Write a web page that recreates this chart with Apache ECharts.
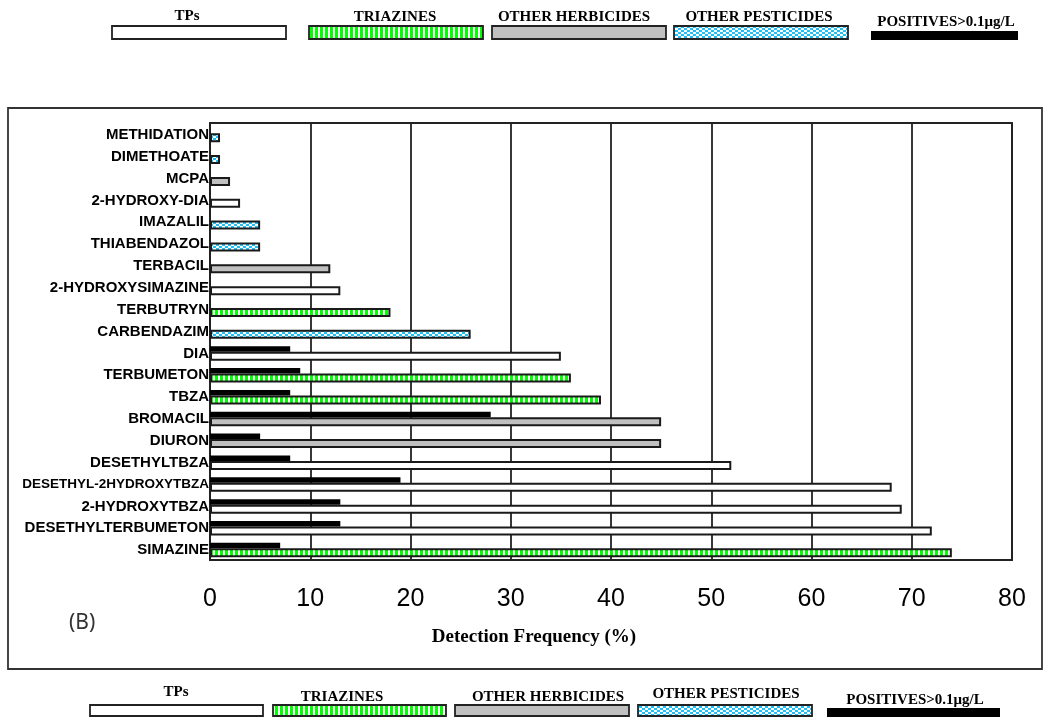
<!DOCTYPE html>
<html>
<head>
<meta charset="utf-8">
<script src="https://cdn.jsdelivr.net/npm/echarts@6/dist/echarts.min.js"></script>
<style>
  html, body { margin: 0; padding: 0; background: #fff; }
  #chart { width: 1043px; height: 719px; }
</style>
</head>
<body>
<div id="chart"></div>
<script>
// Compounds, listed top to bottom
const categories = [
  'METHIDATION', 'DIMETHOATE', 'MCPA', '2-HYDROXY-DIA', 'IMAZALIL',
  'THIABENDAZOL', 'TERBACIL', '2-HYDROXYSIMAZINE', 'TERBUTRYN', 'CARBENDAZIM',
  'DIA', 'TERBUMETON', 'TBZA', 'BROMACIL', 'DIURON',
  'DESETHYLTBZA', 'DESETHYL-2HYDROXYTBZA', '2-HYDROXYTBZA', 'DESETHYLTERBUMETON', 'SIMAZINE'
];
// Detection frequency (%)
const frequency = [1, 1, 2, 3, 5, 5, 12, 13, 18, 26, 35, 36, 39, 45, 45, 52, 68, 69, 72, 74];
// Compound class of each entry
const groups = [
  'pest', 'pest', 'herb', 'tp', 'pest',
  'pest', 'herb', 'tp', 'tri', 'pest',
  'tp', 'tri', 'tri', 'herb', 'herb',
  'tp', 'tp', 'tp', 'tp', 'tri'
];
// Share of samples above 0.1 µg/L (%), 0 = none
const positives = [0, 0, 0, 0, 0, 0, 0, 0, 0, 0, 8, 9, 8, 28, 5, 8, 19, 13, 13, 7];
const xTicks = [0, 10, 20, 30, 40, 50, 60, 70, 80];
const legendKeys = ['tp', 'tri', 'herb', 'pest', 'pos'];
const legendNames = ['TPs', 'TRIAZINES', 'OTHER HERBICIDES', 'OTHER PESTICIDES', 'POSITIVES>0.1\u03bcg/L'];
const axisTitle = 'Detection Frequency (%)';
const panelTag = '(B)';

// ---- fill patterns ----
function makeCanvas(w, h, draw) {
  const c = document.createElement('canvas');
  c.width = w; c.height = h;
  draw(c.getContext('2d'));
  return c;
}
const stripeFill = {
  image: makeCanvas(5, 8, g => {
    g.fillStyle = '#ffffff'; g.fillRect(0, 0, 5, 8);
    g.fillStyle = '#00ff00'; g.fillRect(0, 0, 3, 8);
  }),
  repeat: 'repeat'
};
const dotFill = {
  image: makeCanvas(6, 4, g => {
    g.fillStyle = '#ffffff'; g.fillRect(0, 0, 6, 4);
    g.fillStyle = '#1cc2f7';
    g.fillRect(0, 0, 3, 2);
    g.fillRect(3, 2, 3, 2);
  }),
  repeat: 'repeat'
};
const fills = { tp: '#ffffff', tri: stripeFill, herb: '#c0c0c0', pest: dotFill, pos: '#000000' };

// ---- legend rows (text above a long swatch) ----
const SERIF = '"Liberation Serif", "Times New Roman", serif';
const SANS = '"Liberation Sans", Arial, sans-serif';
function legendRow(swatchX, swatchW, swatchY, swatchH, textX, textY) {
  const out = [];
  legendKeys.forEach((k, i) => {
    const isPos = k === 'pos';
    out.push({
      type: 'rect',
      shape: { x: swatchX[i], y: swatchY[i], width: swatchW[i], height: swatchH[i] },
      style: { fill: fills[k], stroke: isPos ? '#000' : '#222', lineWidth: isPos ? 0 : 1.8 },
      silent: true
    });
    out.push({
      type: 'text',
      style: {
        text: legendNames[i], x: textX[i], y: textY[i],
        textAlign: 'center', textVerticalAlign: 'middle',
        font: 'bold 15px ' + SERIF, fill: '#000'
      },
      silent: true
    });
  });
  return out;
}
const topLegend = legendRow(
  [112, 309, 492, 674, 871], [174, 174, 174, 174, 147],
  [26, 26, 26, 26, 31], [13, 13, 13, 13, 9],
  [187, 395, 574, 759, 946], [16, 17.5, 17.5, 17.5, 22]
);
const bottomLegend = legendRow(
  [90, 273, 455, 638, 827], [173, 173, 174, 174, 173],
  [705, 705, 705, 705, 708], [11, 11, 11, 11, 9],
  [176, 342, 548, 726, 915], [692, 697, 697, 694, 700]
);

const chart = echarts.init(document.getElementById('chart'), null, { renderer: 'canvas' });
chart.setOption({
  animation: false,
  backgroundColor: '#ffffff',
  grid: {
    left: 210, top: 123, width: 802, height: 437,
    show: true, borderColor: '#222', borderWidth: 1.8, backgroundColor: 'transparent'
  },
  xAxis: {
    type: 'value', min: xTicks[0], max: xTicks[xTicks.length - 1], interval: 10,
    axisLine: { show: true, lineStyle: { color: '#222', width: 1.8 } },
    axisTick: { show: false },
    splitLine: { show: true, lineStyle: { color: '#222', width: 1.8 } },
    axisLabel: { fontSize: 25, color: '#000', fontFamily: SANS, margin: 27 }
  },
  yAxis: {
    type: 'category', inverse: true, data: categories,
    axisLine: { show: true, lineStyle: { color: '#222', width: 1.8 } },
    axisTick: { show: false },
    splitLine: { show: false },
    axisLabel: {
      margin: 1, color: '#000', fontSize: 15, fontWeight: 'bold', fontFamily: SANS,
      padding: [2, 0, 0, 0],
      formatter: v => v.length > 20 ? '{s|' + v + '}' : v,
      rich: { s: { fontSize: 13.5, fontWeight: 'bold', fontFamily: SANS, color: '#000' } }
    }
  },
  series: [
    // empty slot that nudges the bar pair just below each band centre
    { type: 'bar', name: 'offset', barWidth: 2, barGap: '0%', data: categories.map(() => '-'), silent: true },
    {
      type: 'bar', name: legendNames[4], barWidth: 5.5, barGap: '0%',
      data: positives.map(v => (v > 0 ? v : '-')),
      itemStyle: { color: '#000' }
    },
    {
      type: 'bar', name: 'frequency', barWidth: 9, barGap: '0%',
      data: frequency.map((v, i) => ({ value: v, itemStyle: { color: fills[groups[i]] } })),
      itemStyle: { borderColor: '#1a1a1a', borderWidth: 2 }
    }
  ],
  graphic: [
    {
      type: 'rect', shape: { x: 8, y: 108, width: 1034, height: 561 },
      style: { fill: 'none', stroke: '#333', lineWidth: 1.8 }, silent: true, z: -1
    },
    {
      type: 'text',
      style: {
        text: axisTitle, x: 534, y: 637, textAlign: 'center', textVerticalAlign: 'middle',
        font: 'bold 19px ' + SERIF, fill: '#000'
      }
    },
    {
      type: 'text',
      style: {
        text: panelTag, x: 69, y: 623, textAlign: 'left', textVerticalAlign: 'middle',
        font: '21px "Noto Sans", sans-serif', fill: '#333'
      }
    }
  ].concat(topLegend, bottomLegend)
});
</script>
</body>
</html>
